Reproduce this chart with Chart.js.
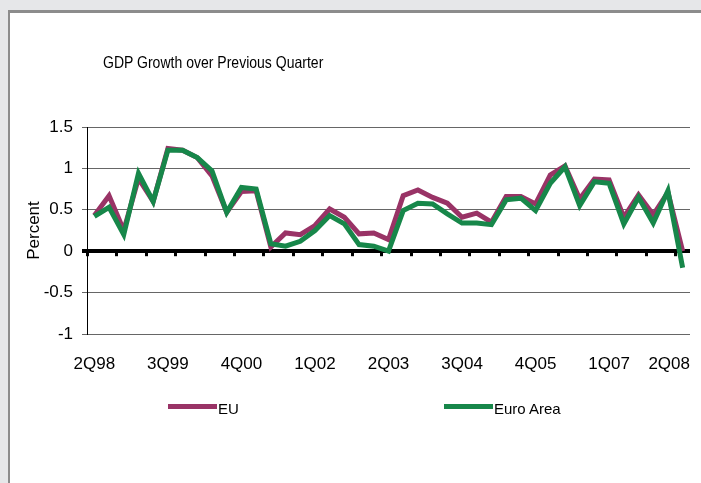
<!DOCTYPE html>
<html>
<head>
<meta charset="utf-8">
<title>GDP Growth over Previous Quarter</title>
<script src="https://cdn.jsdelivr.net/npm/chart.js@4.4.1/dist/chart.umd.min.js"></script>
<style>
    html, body {
        margin: 0;
        padding: 0;
        width: 701px;
        height: 483px;
        overflow: hidden;
        background: #e6e7e9;
        font-family: "Liberation Sans", Arial, sans-serif;
    }
    #panel {
        position: absolute;
        left: 8px;
        top: 10px;
        right: 0;
        bottom: 0;
        background: #fff;
        border-left: 2px solid #8c8c8c;
        border-top: 3px solid #8c8c8c;
    }
    #chart {
        position: absolute;
        left: 0;
        top: 0;
    }
    .title {
        position: absolute;
        left: 103px;
        top: 53px;
        font-size: 16.5px;
        color: #000;
        white-space: nowrap;
        transform: scaleX(0.85);
        transform-origin: 0 0;
    }
    .legend-item {
        position: absolute;
        top: 396px;
        height: 20px;
        font-size: 15px;
        color: #000;
        white-space: nowrap;
    }
    .legend-item .swatch {
        position: absolute;
        left: 0;
        top: 8px;
        width: 49px;
        height: 5px;
    }
    .legend-item .text {
        position: absolute;
        left: 50px;
        top: 4px;
    }
</style>
</head>
<body>
<div id="panel"></div>
<canvas id="chart" width="701" height="483"></canvas>
<div class="title">GDP Growth over Previous Quarter</div>
<div class="legend-item" style="left:168px"><div class="swatch" id="swEU"></div><span class="text">EU</span></div>
<div class="legend-item" style="left:444px"><div class="swatch" id="swEA"></div><span class="text">Euro Area</span></div>
<script>
// Trimestri dal 2Q98 al 2Q08
const quarters = [
    '2Q98', '3Q98', '4Q98',
    '1Q99', '2Q99', '3Q99', '4Q99',
    '1Q00', '2Q00', '3Q00', '4Q00',
    '1Q01', '2Q01', '3Q01', '4Q01',
    '1Q02', '2Q02', '3Q02', '4Q02',
    '1Q03', '2Q03', '3Q03', '4Q03',
    '1Q04', '2Q04', '3Q04', '4Q04',
    '1Q05', '2Q05', '3Q05', '4Q05',
    '1Q06', '2Q06', '3Q06', '4Q06',
    '1Q07', '2Q07', '3Q07', '4Q07',
    '1Q08', '2Q08'
];

// Etichette mostrate sull'asse x
const xTickLabels = ['2Q98', '3Q99', '4Q00', '1Q02', '2Q03', '3Q04', '4Q05', '1Q07', '2Q08'];

// Crescita % sul trimestre precedente
const euValues = [
    0.43, 0.67, 0.25,
    0.88, 0.60, 1.24, 1.22,
    1.13, 0.91, 0.47, 0.72,
    0.73, 0.05, 0.22, 0.20,
    0.31, 0.51, 0.41, 0.21,
    0.22, 0.14, 0.67, 0.74,
    0.65, 0.58, 0.41, 0.46,
    0.35, 0.66, 0.66, 0.57,
    0.92, 1.03, 0.63, 0.87,
    0.86, 0.41, 0.68, 0.44,
    0.71, 0.00
];

const euroAreaValues = [
    0.42, 0.53, 0.20,
    0.94, 0.60, 1.22, 1.22,
    1.13, 0.97, 0.47, 0.77,
    0.75, 0.09, 0.06, 0.12,
    0.25, 0.43, 0.33, 0.08,
    0.06, 0.00, 0.49, 0.58,
    0.57, 0.45, 0.34, 0.34,
    0.32, 0.62, 0.64, 0.49,
    0.82, 1.02, 0.55, 0.84,
    0.82, 0.33, 0.65, 0.34,
    0.73, -0.20
];

// Tacche dell'asse y
const yTicks = [-1, -0.5, 0, 0.5, 1, 1.5];

const euColor = '#993366';
const euroAreaColor = '#17874a';

document.getElementById('swEU').style.background = euColor;
document.getElementById('swEA').style.background = euroAreaColor;

// Piccole tacche sotto la linea dello zero, ogni due trimestri
const zeroLineTicks = {
    id: 'zeroLineTicks',
    beforeDatasetsDraw(chart) {
        const ctx = chart.ctx;
        const xs = chart.scales.x;
        const ys = chart.scales.y;
        const y0 = ys.getPixelForValue(0);
        const step = (xs.right - xs.left) / quarters.length;
        ctx.save();
        ctx.fillStyle = '#000';
        for (let k = 0; k < quarters.length; k += 2) {
            const px = xs.left + k * step;
            ctx.fillRect(Math.round(px) - 1, y0 + 1, 3, 4);
        }
        ctx.restore();
    }
};

// L'ultima etichetta dell'asse x viene allineata al bordo destro del grafico
const lastLabelInside = {
    id: 'lastLabelInside',
    beforeDraw(chart) {
        const xs = chart.scales.x;
        const items = xs.getLabelItems();
        const last = items.filter(it => it.label !== '').pop();
        if (last) {
            last.options.textAlign = 'right';
            last.options.translation[0] = xs.right;
        }
    }
};

const tickFont = { family: '"Liberation Sans", Arial, sans-serif', size: 17 };

new Chart(document.getElementById('chart').getContext('2d'), {
    type: 'line',
    data: {
        labels: quarters,
        datasets: [{
            label: 'Euro Area',
            data: euroAreaValues,
            borderColor: euroAreaColor,
            backgroundColor: euroAreaColor,
            borderWidth: 5,
            pointRadius: 0,
            tension: 0,
            fill: false
        }, {
            label: 'EU',
            data: euValues,
            borderColor: euColor,
            backgroundColor: euColor,
            borderWidth: 5,
            pointRadius: 0,
            tension: 0,
            fill: false
        }]
    },
    options: {
        responsive: false,
        animation: false,
        devicePixelRatio: 1,
        layout: {
            padding: { top: 127, right: 11, bottom: 0, left: 0 }
        },
        plugins: {
            legend: { display: false },
            title: { display: false },
            tooltip: { enabled: false }
        },
        scales: {
            x: {
                type: 'category',
                offset: true,
                grid: { display: false },
                border: { display: false },
                ticks: {
                    autoSkip: false,
                    maxRotation: 0,
                    minRotation: 0,
                    padding: 12,
                    color: '#000',
                    font: tickFont,
                    callback: function(value, index) {
                        const q = quarters[index];
                        return xTickLabels.includes(q) ? q : '';
                    }
                },
                afterFit: function(scale) {
                    scale.height = 149;
                    scale.paddingLeft = 0;
                    scale.paddingRight = 0;
                }
            },
            y: {
                min: yTicks[0],
                max: yTicks[yTicks.length - 1],
                afterBuildTicks: function(scale) {
                    scale.ticks = yTicks.map(v => ({ value: v }));
                },
                ticks: {
                    color: '#000',
                    font: tickFont,
                    padding: 9,
                    callback: value => String(value)
                },
                grid: {
                    color: ctx => (ctx.tick && ctx.tick.value === 0) ? '#000' : '#666',
                    lineWidth: ctx => (ctx.tick && ctx.tick.value === 0) ? 4 : 1,
                    tickLength: 5
                },
                border: { display: true, color: '#000', width: 1 },
                title: {
                    display: true,
                    text: 'Percent',
                    color: '#000',
                    font: tickFont,
                    padding: { top: 24, bottom: 0 }
                },
                afterFit: function(scale) {
                    scale.width = 87;
                }
            }
        }
    },
    plugins: [zeroLineTicks, lastLabelInside]
});
</script>
</body>
</html>
